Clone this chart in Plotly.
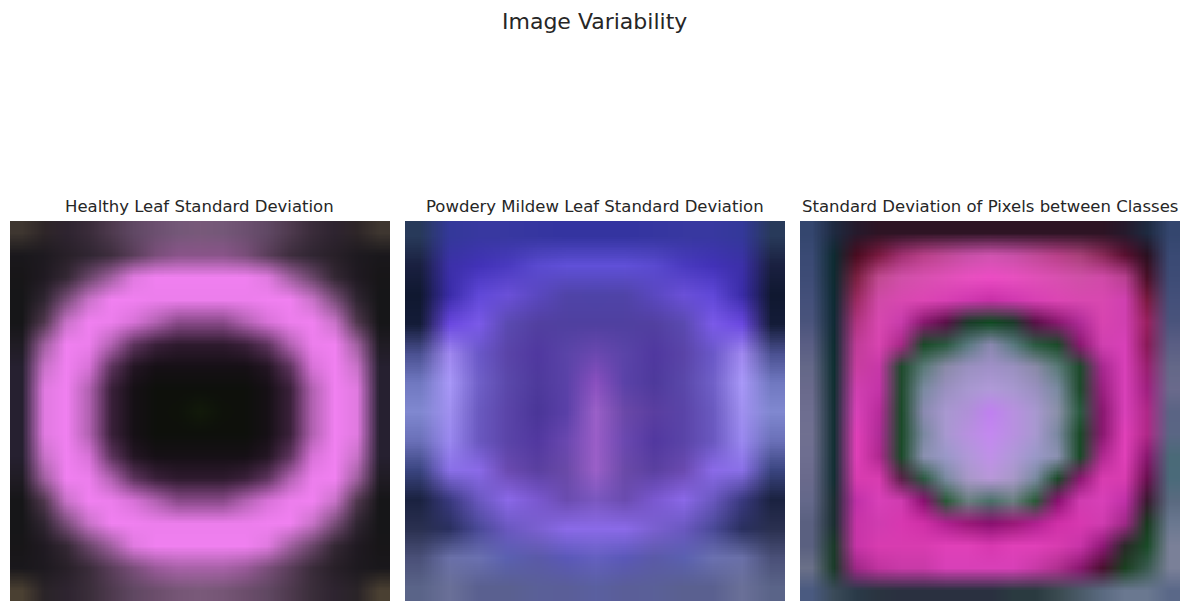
import base64
import struct
import zlib

import plotly.graph_objects as go

# Colours, one row of cells per string (top to bottom).
healthy_rows = [
    "3e3630 2e2628 2e2430 3a2c3a 4e3a4e 604864 6c5070 745878 785a7a 745878 6c5070 604864 4e3a4e 3a2c3a 2e2430 2e2628 3e3630",
    "1a181c 1e1a20 282028 302632 3e2e3e 5a3e5a 7a4e7a 8a548a 8a548a 8a548a 7a4e7a 5a3e5a 3e2e3e 302632 282028 1e1a20 1a181c",
    "181618 201a22 342834 6a466a a060a0 e07ae0 f080f0 f080f0 f080f0 f080f0 f080f0 e07ae0 a060a0 6a466a 342834 201a22 181618",
    "161618 302632 7a4e7a c872c8 f080f0 f080f0 ec7eec ec7eec ec7eec ec7eec ec7eec f080f0 f080f0 c872c8 7a4e7a 302632 161618",
    "161618 50384e c872c8 f080f0 ec7eec d872d8 b262b2 8a4a8a 8a4a8a 8a4a8a b262b2 d872d8 ec7eec f080f0 c872c8 50384e 161618",
    "201c24 a060a0 f080f0 ec7eec b262b2 5e345e 3a203a 2e1a2e 2e1a2e 2e1a2e 3a203a 5e345e b262b2 ec7eec f080f0 a060a0 201c24",
    "262030 c872c8 f080f0 d872d8 5e345e 241624 161016 161016 161016 161016 161016 241624 5e345e d872d8 f080f0 c872c8 262030",
    "262030 e07ae0 f080f0 b262b2 3a203a 161016 0e100c 0e100c 0e100c 0e100c 0e100c 161016 3a203a b262b2 f080f0 e07ae0 262030",
    "262030 e07ae0 f080f0 b262b2 3a203a 161016 0e100c 0e120a 121a0a 0e120a 0e100c 161016 3a203a b262b2 f080f0 e07ae0 262030",
    "262030 e07ae0 f080f0 b262b2 3a203a 161016 0e100c 0e100c 0e100c 0e100c 0e100c 161016 3a203a b262b2 f080f0 e07ae0 262030",
    "262030 c872c8 f080f0 d872d8 5e345e 241624 161016 161016 161016 161016 161016 241624 5e345e d872d8 f080f0 c872c8 262030",
    "201c24 a060a0 f080f0 ec7eec b262b2 5e345e 3a203a 2e1a2e 2e1a2e 2e1a2e 3a203a 5e345e b262b2 ec7eec f080f0 a060a0 201c24",
    "161618 50384e c872c8 f080f0 ec7eec d872d8 b262b2 8a4a8a 8a4a8a 8a4a8a b262b2 d872d8 ec7eec f080f0 c872c8 50384e 161618",
    "161618 302632 7a4e7a c872c8 f080f0 f080f0 ec7eec ec7eec ec7eec ec7eec ec7eec f080f0 f080f0 c872c8 7a4e7a 302632 161618",
    "181618 201a22 342834 6a466a a060a0 e07ae0 f080f0 f080f0 f080f0 f080f0 f080f0 e07ae0 a060a0 6a466a 342834 201a22 181618",
    "1a181c 1e1a20 282028 3a2c3a 5a3e5a 7a4e7a 9a5a9a a862a8 a862a8 a862a8 9a5a9a 7a4e7a 5a3e5a 3a2c3a 282028 1e1a20 1a181c",
    "4a4032 2a2428 2e2430 3a2e3a 4e3a4e 604862 6c4e6c 765676 7a5a7a 765676 6c4e6c 604862 4e3a4e 3a2e3a 2e2430 2a2428 4a4032",
]

mildew_rows = [
    "283a5a 34389a 3838a0 3838a0 3636a0 3434a0 3434a0 3434a0 3636a0 3838a0 3838a0 34389a 283a5a",
    "1a2040 3c30a8 4232b8 4a3ac0 5a4ad0 6050d8 6050d8 6050d8 5a4ad0 4a3ac0 4232b8 3c30a8 1a2040",
    "101830 3a2ca8 6048d8 6a50d8 5a48c0 5044a8 4e44a8 5044a8 5a48c0 6a50d8 6048d8 3a2ca8 101830",
    "141c38 6a48e0 7a5ae8 5a4ab0 5240a0 5040a0 5040a0 5040a0 5240a0 5a4ab0 7a5ae8 6a48e0 141c38",
    "4a5090 a088f0 6a58c8 5a44a8 5038a0 5a44a8 6a48b0 5a44a8 5038a0 5a44a8 6a58c8 a088f0 4a5090",
    "7078c0 a898f8 7060c8 5a48aa 4e3a9c 5a42a8 8a50c0 5a42a8 4e3a9c 5a48aa 7060c8 a898f8 7078c0",
    "8088d0 a090f0 6a5ac0 5a44a8 4a3698 5a40a8 9a60c8 6a48a8 5a3ea0 5a44a8 6a5ac0 a090f0 8088d0",
    "6a70b8 9a88f0 6a58c0 5a44a8 5238a0 6a48b0 9a5ec8 6a48b0 5238a0 5a44a8 6a58c0 9a88f0 6a70b8",
    "3a4580 8a70e8 8a6ae8 6a4ab0 5a40a0 6a4aa8 9a60c8 6a4aa8 5a40a0 6a4ab0 8a6ae8 8a70e8 3a4580",
    "1a2240 3a3a80 6a58c0 8a68e8 7a58d0 6a4cb0 7a58c0 6a4cb0 7a58d0 8a68e8 6a58c0 3a3a80 1a2240",
    "2a3050 2a3060 4a4a98 6a58c0 7a60d0 8a6ae8 8a6ae8 8a6ae8 7a60d0 6a58c0 4a4a98 2a3060 2a3050",
    "4a5078 6a70a8 6a70b0 5a60b0 5a5aa8 5a58b8 6460c0 5a58b8 5a5aa8 5a60b0 6a70b0 6a70a8 4a5078",
    "5a6488 6a7098 5a6090 5a6090 5a6098 5a5e98 5a60a0 5a5e98 5a6098 5a6090 5a6090 6a7098 5a6488",
]

between_rows = [
    "34466e 1e2a40 261a2c 2e1424 2e1424 2e1424 2e1424 2e1424 2e1424 2e1424 2e1424 2e1424 2e1424 2e1424 261a2c 1e2a40 34466e",
    "3a4a74 0e2a30 4a0c20 7a1a40 a03070 b84088 c04a98 c850a8 d054b0 c850a8 c04a98 b84088 a84078 8a2a58 5a1030 2a1020 3a4a74",
    "3e4c76 0e2a30 7a2040 c04a90 d050a8 d850b0 e050b8 e850c0 ec4cc4 e850c0 e050b8 d850b0 d050a8 d04aa8 b84090 4a1028 3e4c76",
    "44507a 0e2a32 9a2a60 d04aa8 d848b0 dc46b4 d840b4 d038b0 c830a8 d038b0 d840b4 dc46b4 d848b0 d848b0 d040b0 7a1a40 44507a",
    "4a547c 102a34 b03480 d848b0 c83cac 8a1870 5a1048 1a3a28 0e4a20 1a3a28 5a1048 8a1870 b02c98 d844b0 d040b0 9a2060 4a547c",
    "5a5e84 0e2c30 c03c98 d844b0 a82888 1a4a28 2a5a40 5a7a80 8a88b0 5a7a80 2a5a40 1a4a28 8a1870 d040b0 d840b8 8a1a58 5a5e84",
    "646888 0e2e30 c83ea0 c838a8 1e4a2c 5a7a78 8a8aa8 9a90c0 a090c8 9a90c0 8a8aa8 5a7a78 1e4a2c a82890 d840b8 9a2070 646888",
    "6a6a8c 102e30 d040b0 c434a8 1e4a2c 7a8aa0 9a90c0 a898d0 b09ad8 a898d0 9a90c0 7a8aa0 1e4a2c 9a2080 d840b8 a02080 6a6a8c",
    "6e6e90 122e32 d842b8 b82c9c 1a4a28 8a8ab0 a898d0 b090d8 c080f0 b890e0 a898d0 8a90a8 2a5a40 8a1870 d840b8 b02888 5a6484",
    "707090 122e32 e040b8 b02c98 1a4a28 7a88a0 a898d0 b890e0 c488f0 b890e0 a898d0 7a88a0 1a4a28 8a1870 e040b8 b02888 5a6684",
    "6e6e90 122e32 e040b8 b02890 1a4a28 8a90b0 9a98c8 b098d8 c090e8 b098d8 9a98c8 8a90b0 1a4a28 b02890 e040b8 8a1870 4a6a78",
    "6a6a8c 122e32 d83cb0 d83cb0 5a2048 2a5a40 7a8aa0 a898c8 b898d8 a898c8 7a8aa0 1a4a28 8a1870 d83cb0 d83cb0 6a1050 4a6a7a",
    "64688a 1a2e30 c030a8 d840b8 d03cb0 8a1070 2a5a38 6a8080 4a7068 6a8080 2a5a38 8a1070 d03cb0 d840b8 c030a8 3a1a30 5a6a80",
    "5a6080 1a2e30 c834a8 d03cb0 d838b0 d030a8 b02090 9a1878 8a1070 9a1878 b02090 d030a8 d838b0 d03cb0 a02888 1a3a20 6a7890",
    "5a6080 1a3a28 c834a8 d83cb0 d83cb0 d83cb0 e040b8 e040b8 d838b0 e040b8 e040b8 d83cb0 c834a8 901878 2a2a28 1a4a28 7a8098",
    "6a7088 1a3a28 a02888 c034a0 c83aa8 c83aa8 d840b8 d840b8 d840b8 d840b8 c83aa8 b03090 8a1870 4a1030 1a4020 3a5a50 7a8098",
    "4a5a80 3a4a58 2a3a48 2a3440 2a3040 2a3040 2a3040 2a3040 2a3040 2a3a40 2a3a40 3a4a50 4a5a68 5a6a80 6a7890 6a7890 5a6888",
]

titles = [
    "Healthy Leaf Standard Deviation",
    "Powdery Mildew Leaf Standard Deviation",
    "Standard Deviation of Pixels between Classes",
]


def png_uri(rows):
    # tiny RGB png, the browser scales it up smoothly
    cells = [[bytes.fromhex(c) for c in r.split()] for r in rows]
    h, w = len(cells), len(cells[0])
    raw = b"".join(b"\x00" + b"".join(row) for row in cells)

    def chunk(tag, data):
        return (struct.pack(">I", len(data)) + tag + data
                + struct.pack(">I", zlib.crc32(tag + data) & 0xffffffff))

    png = (b"\x89PNG\r\n\x1a\n"
           + chunk(b"IHDR", struct.pack(">IIBBBBB", w, h, 8, 2, 0, 0, 0))
           + chunk(b"IDAT", zlib.compress(raw, 9))
           + chunk(b"IEND", b""))
    return "data:image/png;base64," + base64.b64encode(png).decode()


# the page puts an 8px body margin around the plot, so the figure is 8px smaller
# and every position below is in figure pixels
W, H = 1181, 603
SIDE = 380
TOP = 213
font = "DejaVu Sans, Liberation Sans, sans-serif"

fig = go.Figure()
for i, (rows, left) in enumerate([(healthy_rows, 2), (mildew_rows, 397), (between_rows, 792)]):
    n = len(rows)
    k = "" if i == 0 else str(i + 1)
    fig.add_trace(go.Image(source=png_uri(rows), zsmooth="fast",
                           xaxis="x" + k, yaxis="y" + k, hoverinfo="skip"))
    fig.layout["xaxis" + k] = dict(domain=[left / W, (left + SIDE) / W], range=[-0.5, n - 0.5],
                                   visible=False, anchor="y" + k)
    fig.layout["yaxis" + k] = dict(domain=[1 - (TOP + SIDE) / H, 1 - TOP / H], range=[n - 0.5, -0.5],
                                   visible=False, anchor="x" + k)
    fig.add_annotation(text=titles[i], x=(left + SIDE / 2) / W, y=1 - 199 / H,
                       xref="paper", yref="paper", showarrow=False,
                       xanchor="center", yanchor="middle",
                       font=dict(family=font, size=16.5, color="#262626"))

fig.add_annotation(text="Image Variability", x=(594 - 8) / W, y=1, xref="paper", yref="paper",
                   showarrow=False, xanchor="center", yanchor="top", borderpad=0,
                   font=dict(family=font, size=22, color="#262626"))

fig.update_layout(width=W, height=H, margin=dict(l=0, r=0, t=0, b=0),
                  paper_bgcolor="white", plot_bgcolor="white", showlegend=False)

fig.write_html("out.html")
